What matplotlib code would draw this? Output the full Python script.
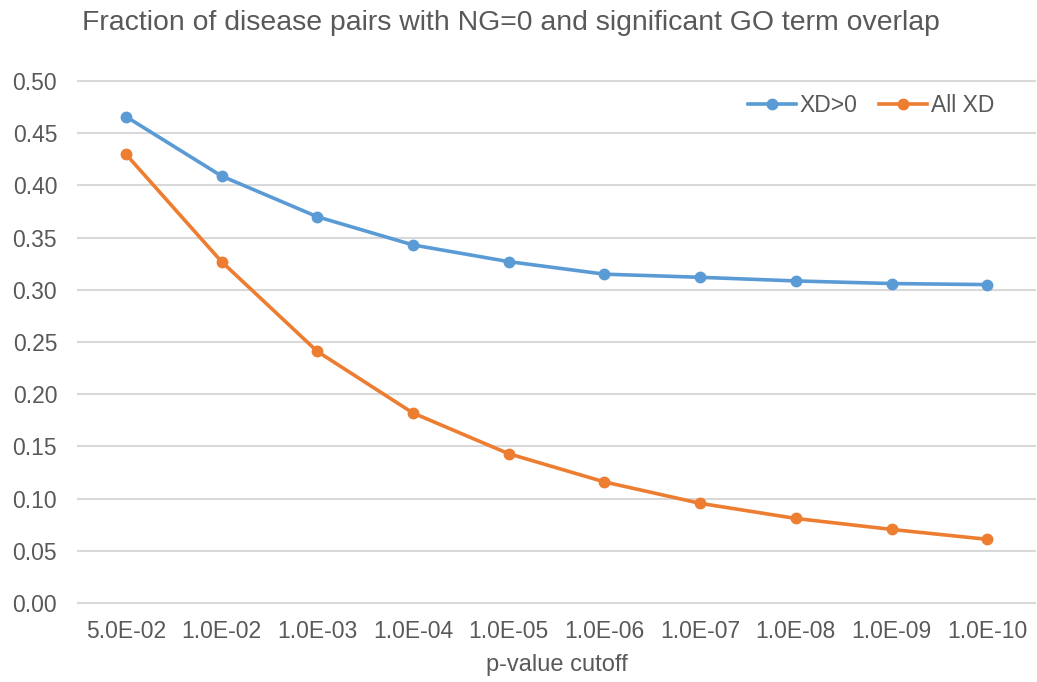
import matplotlib
matplotlib.use('Agg')
import matplotlib.pyplot as plt

# данные
cutoffs = ['5.0E-02', '1.0E-02', '1.0E-03', '1.0E-04', '1.0E-05',
           '1.0E-06', '1.0E-07', '1.0E-08', '1.0E-09', '1.0E-10']
xd_pos = [0.466, 0.409, 0.370, 0.343, 0.327, 0.315, 0.312, 0.3085, 0.306, 0.305]
all_xd = [0.430, 0.327, 0.241, 0.182, 0.143, 0.116, 0.0955, 0.081, 0.0705, 0.061]

text_col = '#595959'
plt.rcParams['font.family'] = ['Liberation Sans', 'DejaVu Sans']

fig = plt.figure(figsize=(10.37, 6.82), dpi=100)
ax = fig.add_axes([0.0752, 0.1158, 0.923, 0.7654])

x = range(len(cutoffs))
ax.plot(x, xd_pos, '-o', color='#5B9BD5', lw=2.6, ms=7.5, label='XD>0', zorder=3)
ax.plot(x, all_xd, '-o', color='#ED7D31', lw=2.6, ms=7.5, label='All XD', zorder=3)

ax.set_xlim(-0.5, len(cutoffs) - 0.5)
ax.set_ylim(0, 0.5)
ax.set_yticks([i * 0.05 for i in range(11)])
ax.set_yticklabels(['%.2f' % (i * 0.05) for i in range(11)])
ax.set_xticks(list(x))
ax.set_xticklabels(cutoffs)
ax.grid(axis='y', color='#D9D9D9', lw=1.5, clip_on=False)
ax.set_axisbelow(True)
for s in ax.spines.values():
    s.set_visible(False)
ax.tick_params(length=0, labelsize=16.5, labelcolor=text_col)
ax.tick_params(axis='y', pad=15)
ax.tick_params(axis='x', pad=12)
ax.set_xlabel('p-value cutoff', fontsize=17, color=text_col, labelpad=8)

fig.text(0.079, 0.966, 'Fraction of disease pairs with NG=0 and significant GO term overlap',
         fontsize=20.4, color=text_col, va='center', ha='left')

leg = ax.legend(loc='center', bbox_to_anchor=(0.84, 0.845), bbox_transform=fig.transFigure,
                ncol=2, frameon=False, fontsize=16.5, handlelength=2.1, columnspacing=0.95,
                handletextpad=0.15)
for t in leg.get_texts():
    t.set_color(text_col)

fig.savefig('out.png', dpi=100)
